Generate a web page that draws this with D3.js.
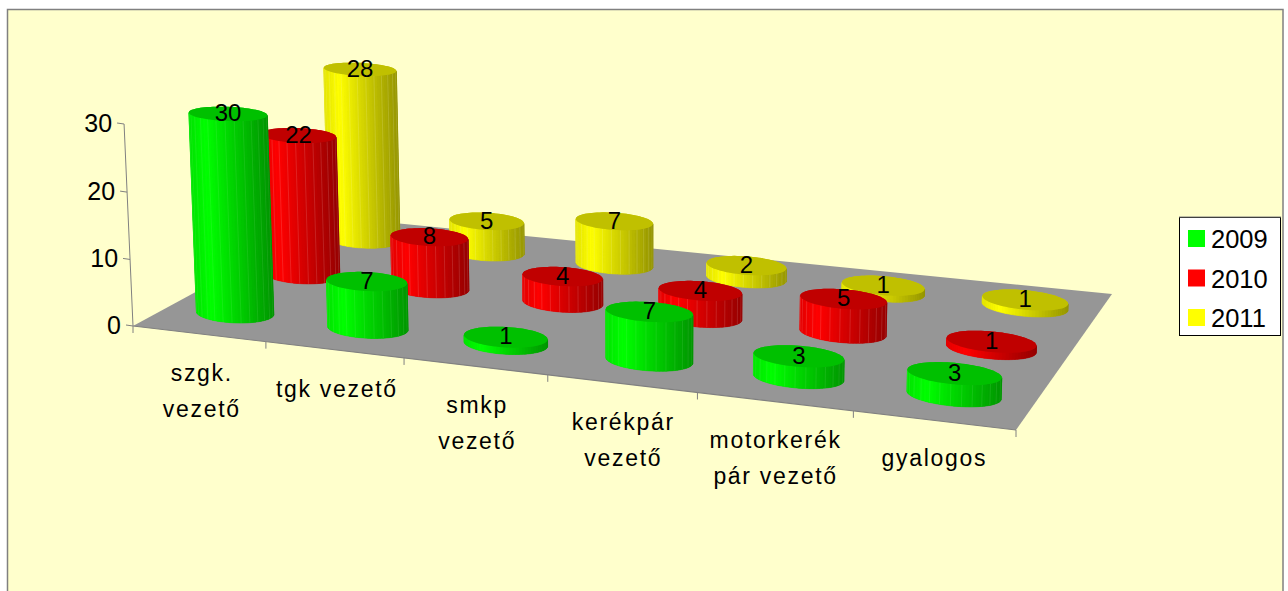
<!DOCTYPE html>
<html><head><meta charset="utf-8">
<script src="https://cdn.jsdelivr.net/npm/d3@7/dist/d3.min.js"></script>
<style>html,body{margin:0;padding:0;background:#fff}svg{display:block}</style></head>
<body><svg id="c" width="1288" height="591"></svg>
<script>
const categories = ["szgk. vezető","tgk vezető","smkp vezető","kerékpár vezető","motorkerék pár vezető","gyalogos"];
const categoryLines = [["szgk.","vezető"],["tgk vezető"],["smkp","vezető"],["kerékpár","vezető"],["motorkerék","pár vezető"],["gyalogos"]];
const seriesNames = ["2009","2010","2011"];
const values2009 = [30,7,1,7,3,3];
const values2010 = [22,8,4,4,5,1];
const values2011 = [28,5,7,2,1,1];
const yTicks = [0,10,20,30];
const seriesValues = [values2009,values2010,values2011];
const sideColors = ["0,255,0","255,0,0","255,255,0"];
const topColors = ["#00c000","#c00000","#c0c000"];

const svg = d3.select("#c");
const FONT = "'Liberation Sans',Arial,sans-serif";
svg.append("rect").attr("x",7.5).attr("y",9.5).attr("width",1275.5).attr("height",590)
  .attr("fill","#ffffcc").attr("stroke","#808080").attr("stroke-width",1.5);

// projection: unit floor square -> picture
const FL=[133,326],FR=[1016,430],BR=[1112,294],BL=[334,217];
function homography(p0,p1,p2,p3){
  const dx1=p1[0]-p2[0],dx2=p3[0]-p2[0],sx=p0[0]-p1[0]+p2[0]-p3[0];
  const dy1=p1[1]-p2[1],dy2=p3[1]-p2[1],sy=p0[1]-p1[1]+p2[1]-p3[1];
  const den=dx1*dy2-dx2*dy1;
  const g=(sx*dy2-dx2*sy)/den,h=(dx1*sy-sx*dy1)/den;
  return [p1[0]-p0[0]+g*p1[0],p3[0]-p0[0]+h*p3[0],p0[0],
          p1[1]-p0[1]+g*p1[1],p3[1]-p0[1]+h*p3[1],p0[1],g,h,1];
}
const H=homography(FL,FR,BR,BL);
const VP=[640,11800];
const AX30=[124,124];
const a=(AX30[1]-FL[1])/(VP[1]-AX30[1]);
function proj(u,v,z){
  const X=H[0]*u+H[1]*v+H[2]+a*z*VP[0];
  const Y=H[3]*u+H[4]*v+H[5]+a*z*VP[1];
  const W=H[6]*u+H[7]*v+1+a*z;
  return [X/W,Y/W];
}
const xBand=d3.scaleBand().domain(d3.range(categories.length)).range([0,1]);
const vBand=d3.scaleBand().domain(d3.range(seriesNames.length)).range([0,1]);
const zScale=d3.scaleLinear().domain([0,30]).range([0,1]);

// floor
const line=d3.line();
svg.append("path").attr("d",line([FL,FR,BR,BL])+"Z").attr("fill","#969696");
const g=svg.append("g").attr("stroke","#808080").attr("fill","none");
g.append("path").attr("d",line([FL,FR])).attr("stroke-width",1.2);
g.append("path").attr("d",line([proj(0,0,0),proj(0,0,1)]));
d3.range(categories.length+1).forEach(i=>{
  const p=proj(i/categories.length,0,0);
  g.append("path").attr("d",line([p,[p[0],p[1]+7]]));
});
yTicks.forEach(t=>{
  const p=proj(0,0,zScale(t));
  g.append("path").attr("d",line([p,[p[0]-7,p[1]-1]]));
  svg.append("text").attr("x",p[0]-12).attr("y",p[1]+1).attr("text-anchor","end")
    .attr("dominant-baseline","middle").attr("font-family",FONT).attr("font-size",25).attr("fill","#000").text(t);
});

// cylinders
const N=80, ruFrac=0.295*xBand.bandwidth();
function shade(t){ // t: 0 left .. 1 right across silhouette
  return t<0.2 ? 0.9+0.5*t : 1-0.42*(t-0.2)/0.8;
}
function ringAt(cu,cv,z){
  const c=proj(cu,cv,z), c2=proj(cu+ruFrac,cv,z), c1=proj(cu-ruFrac,cv,z);
  const Rx=Math.hypot(c2[0]-c1[0],c2[1]-c1[1])/2;
  const Ry=6.5+0.014*(c[1]-70);
  const tilt=0.02+c[0]*0.00007;
  return d3.range(N).map(i=>{
    const th=2*Math.PI*i/N;
    return [c[0]+Rx*Math.cos(th), c[1]+Rx*tilt*Math.cos(th)+Ry*Math.sin(th)];
  });
}
function cylinder(si,ci,val){
  const cu=xBand(ci)+xBand.bandwidth()/2, cv=vBand(si)+vBand.bandwidth()/2, z=zScale(val);
  const bot=ringAt(cu,cv,0), top=ringAt(cu,cv,z);
  const G=svg.append("g");
  const rgb=sideColors[si].split(",").map(Number);
  const minX=d3.min(bot,p=>p[0]), maxX=d3.max(bot,p=>p[0]);
  const col=t=>{const k=shade(t);return `rgb(${rgb.map(c=>Math.min(255,Math.round(c*k))).join(",")})`;};
  G.append("path").attr("d",line(d3.polygonHull(bot.concat(top)))+"Z").attr("fill",col(0.6));
  d3.range(N).forEach(i=>{
    const j=(i+1)%N;
    const th=2*Math.PI*(i+.5)/N;
    if(Math.sin(th)<-0.03) return; // far side hidden
    const t=((bot[i][0]+bot[j][0])/2-minX)/(maxX-minX);
    const c=col(t);
    G.append("path").attr("d",line([bot[i],bot[j],top[j],top[i]])+"Z")
      .attr("fill",c).attr("stroke",c).attr("stroke-width",.6);
    if(i%3===0 && val>1) G.append("path").attr("d",line([bot[i],top[i]]))
      .attr("stroke",`rgba(255,255,255,${si===0?0.08:0.13})`).attr("stroke-width",1).attr("fill","none");
  });
  G.append("path").attr("d",line(top)+"Z").attr("fill",topColors[si]);
  const c=proj(cu,cv,z);
  return {x:c[0],y:c[1],val};
}
const labels=[];
[2,1,0].forEach(si=>{
  seriesValues[si].forEach((v,ci)=>{ labels.push(cylinder(si,ci,v)); });
});
svg.append("g").selectAll("text").data(labels).join("text")
  .attr("x",d=>d.x).attr("y",d=>d.y+1).attr("text-anchor","middle").attr("dominant-baseline","middle")
  .attr("font-family",FONT).attr("font-size",24).attr("fill","#000").text(d=>d.val);

// category labels
categoryLines.forEach((lines,i)=>{
  const p=proj((i+.5)/categories.length,0,0);
  const t=svg.append("text").attr("text-anchor","middle").attr("font-family",FONT)
    .attr("font-size",23).attr("letter-spacing",1.7).attr("fill","#000");
  lines.forEach((l,k)=>t.append("tspan").attr("x",p[0]+3-0.5*i).attr("y",p[1]+47-0.2*i+k*36).text(l));
});

// legend
const lg=svg.append("g");
lg.append("rect").attr("x",1179.5).attr("y",217.5).attr("width",101).attr("height",118)
  .attr("fill","#fff").attr("stroke","#000");
lg.append("path").attr("d","M1179,217H1281").attr("stroke","#808080").attr("stroke-width",1);
const ly=d3.scalePoint().domain(seriesNames).range([230,309]);
seriesNames.forEach((s,i)=>{
  lg.append("rect").attr("x",1188).attr("y",ly(s)).attr("width",17).attr("height",17).attr("fill",`rgb(${sideColors[i]})`);
  lg.append("text").attr("x",1211).attr("y",ly(s)+18).attr("font-family",FONT).attr("font-size",25.5).attr("fill","#000").text(s);
});
</script></body></html>
